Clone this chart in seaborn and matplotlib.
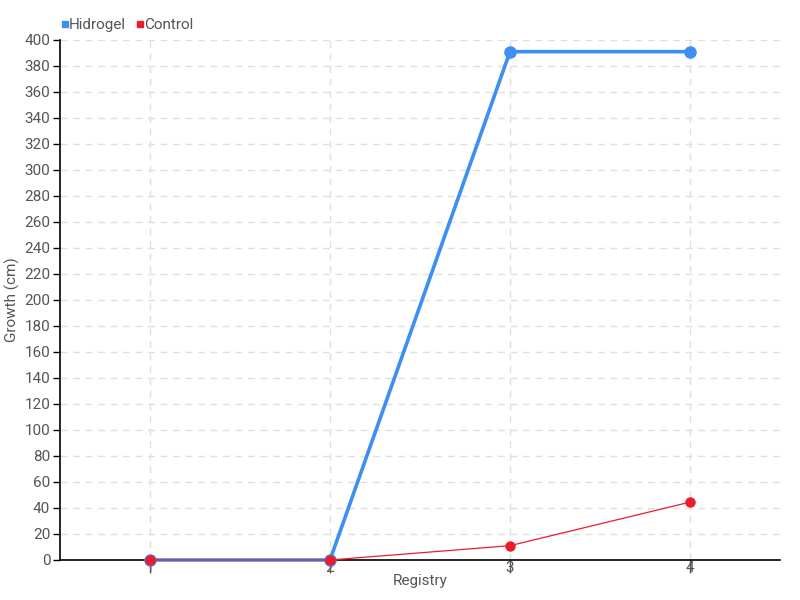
import pandas as pd
import matplotlib.pyplot as plt
from matplotlib.lines import Line2D
import seaborn as sns

registry = [1, 2, 3, 4]
hidrogel = [0, 0, 391, 391]
control = [0, 0, 11, 44.5]
series_names = ["Hidrogel", "Control"]
colors = {"Hidrogel": "#3d8ff0", "Control": "#ee1b2b"}
y_ticks = list(range(0, 401, 20))

data = pd.DataFrame({
    "Registry": registry * 2,
    "Growth": hidrogel + control,
    "series": ["Hidrogel"] * len(registry) + ["Control"] * len(registry),
})

sns.set_style("white")
plt.rcParams['font.family'] = ['Roboto', 'DejaVu Sans']

fig = plt.figure(figsize=(8, 6), dpi=100)
ax = fig.add_axes([0.075, 0.0667, 0.9, 0.8667])

widths = {"Hidrogel": 2.6, "Control": 0.9}
sizes = {"Hidrogel": 8, "Control": 6.5}
for name in series_names:
    sub = data[data["series"] == name]
    sns.lineplot(data=sub, x="Registry", y="Growth", ax=ax, color=colors[name],
                 linewidth=widths[name], marker="o", markersize=sizes[name],
                 markeredgecolor=colors[name], markeredgewidth=1, legend=False,
                 clip_on=False, zorder=3)

ax.set_xlim(0.5, 4.5)
ax.set_ylim(0, 400)
ax.set_xticks(registry)
ax.set_yticks(y_ticks)
ax.grid(True, color="#e0e0e0", linestyle=(0, (5, 4)), linewidth=1)
ax.set_axisbelow(True)
for s in ["top", "right"]:
    ax.spines[s].set_visible(False)
for s in ["left", "bottom"]:
    ax.spines[s].set_color("black")
    ax.spines[s].set_linewidth(1.2)
ax.tick_params(axis="x", length=9, width=1, color="#555555", labelcolor="#555555",
               labelsize=11, pad=-8, direction="out", bottom=True)
ax.tick_params(axis="y", length=5, width=1, color="black", labelcolor="#555555",
               labelsize=11, pad=2, left=True)
ax.set_xlabel("Registry", fontsize=11, color="#555555", labelpad=-1)
ax.set_ylabel("Growth (cm)", fontsize=11, color="#555555", labelpad=3)

handles = [Line2D([], [], marker="s", linestyle="", color=colors[n], markersize=5) for n in series_names]
fig.legend(handles, series_names, loc="upper left", bbox_to_anchor=(0.052, 0.993),
           ncol=2, frameon=False, handletextpad=-0.3, columnspacing=0.3,
           handlelength=1.2, prop={"size": 11}, labelcolor="#555555")

fig.savefig("out.png", dpi=100)
